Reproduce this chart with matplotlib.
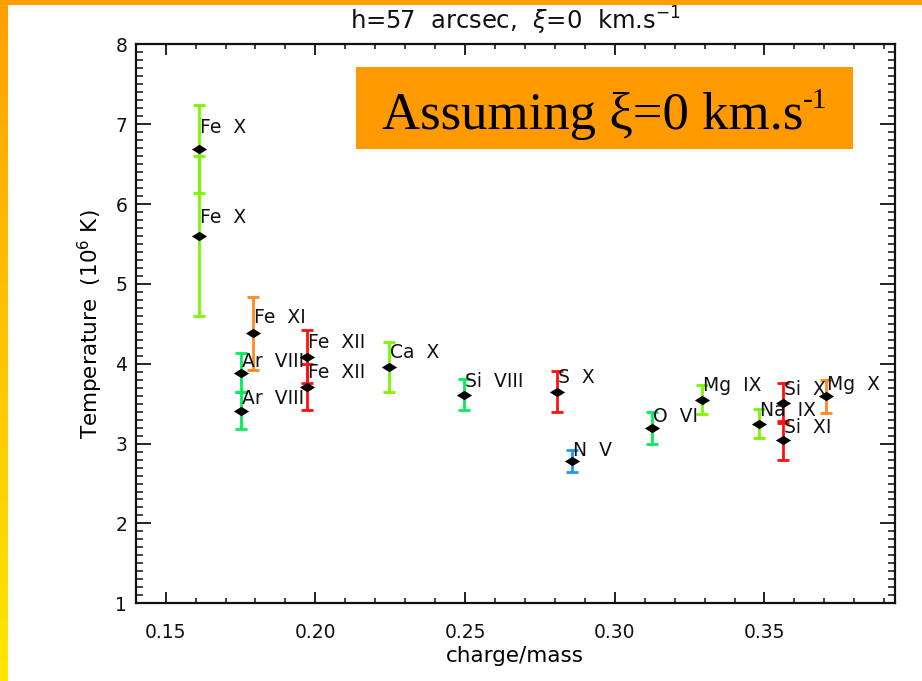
import numpy as np
import matplotlib
matplotlib.use("Agg")
import matplotlib.pyplot as plt
from matplotlib.patches import Rectangle
from matplotlib.colors import LinearSegmentedColormap

# Ion temperatures derived from line widths, h = 57 arcsec, xi = 0 km/s
ions = ["Fe X", "Fe X", "Fe XI", "Ar VIII", "Ar VIII", "Fe XII", "Fe XII",
        "Ca X", "Si VIII", "S X", "N V", "O VI", "Mg IX", "Na IX",
        "Si X", "Si XI", "Mg X"]
charge_mass = [0.1613, 0.1613, 0.1791, 0.1752, 0.1752, 0.1971, 0.1971,
               0.2247, 0.2495, 0.2808, 0.2858, 0.3126, 0.3291, 0.3482,
               0.3563, 0.3563, 0.3705]
temperature = [6.69, 5.60, 4.38, 3.89, 3.41, 4.09, 3.71,
               3.96, 3.61, 3.65, 2.78, 3.19, 3.55, 3.25,
               3.51, 3.04, 3.59]
temp_error = [0.55, 1.00, 0.46, 0.24, 0.23, 0.33, 0.29,
              0.31, 0.195, 0.26, 0.14, 0.20, 0.18, 0.18,
              0.25, 0.24, 0.21]

x_ticks = [0.15, 0.20, 0.25, 0.30, 0.35]
y_ticks = [1, 2, 3, 4, 5, 6, 7, 8]

LIME = "#7CF500"
SPRING = "#00EE5A"
ORANGE = "#FF8A1E"
RED = "#FF1010"
BLUE = "#1E96FF"
bar_colors = [LIME, LIME, ORANGE, SPRING, SPRING, RED, RED,
              LIME, SPRING, RED, BLUE, SPRING, LIME, LIME,
              RED, RED, ORANGE]
# label baseline height above each point, in pixels
label_dy = [16, 13, 10, 6, 7, 8.5, 8.5, 9, 8, 8.5, 5.5, 6.5, 9, 8, 7.5, 7.5, 6]

W, H = 922, 681
fig = plt.figure(figsize=(W / 100, H / 100), dpi=100)
fig.patch.set_facecolor("white")

plt.rcParams["font.family"] = ["DejaVu Sans"]
FS = 13.5
FS_LABEL = 15.5

# slide frame: orange-to-yellow strip on the left, orange strip on top
strip = fig.add_axes([0, 0, 7 / W, 1])
grad = np.linspace(0, 1, 256).reshape(-1, 1)
cmap = LinearSegmentedColormap.from_list("frame", ["#FFA000", "#FFC400", "#FFE600"])
strip.imshow(grad, aspect="auto", cmap=cmap, extent=[0, 1, 1, 0])
strip.set_axis_off()
fig.add_artist(Rectangle((0, 1 - 5 / H), 1, 5 / H, transform=fig.transFigure,
                         facecolor="#FFA000", edgecolor="none", zorder=5))

left, right = 135.7 / W, 895 / W
bottom, top = 1 - 603.3 / H, 1 - 44.3 / H
ax = fig.add_axes([left, bottom, right - left, top - bottom])
ax.set_xlim(0.1405, 0.3936)
ax.set_ylim(1, 8)

for xi, ti, ei, c in zip(charge_mass, temperature, temp_error, bar_colors):
    ax.errorbar([xi], [ti], yerr=[ei], fmt="none", ecolor=c, elinewidth=2.0,
                capsize=4.0, capthick=2.0, zorder=3)

diamond = [(-1, 0), (0, 0.62), (1, 0), (0, -0.62), (-1, 0)]
ax.scatter(charge_mass, temperature, marker=diamond, s=120, c="black",
           linewidths=0, zorder=4)

for name, xi, ti, dy in zip(ions, charge_mass, temperature, label_dy):
    ax.annotate(name.replace(" ", "  "), (xi, ti), xytext=(1, dy),
                textcoords="offset pixels", ha="left", va="baseline",
                fontsize=FS, color="#111111", zorder=5)

ax.set_xticks(x_ticks)
ax.set_xticklabels([f"{v:.2f}" for v in x_ticks])
ax.set_xticks(np.arange(0.14, 0.3936, 0.01), minor=True)
ax.set_yticks(y_ticks)
ax.set_yticklabels([str(v) for v in y_ticks])
ax.set_yticks(np.arange(1, 8.001, 0.1), minor=True)

ax.tick_params(axis="both", which="both", direction="in", top=True, right=True,
               colors="#111111", labelsize=FS)
ax.tick_params(axis="x", which="major", length=8, width=1.3, pad=14)
ax.tick_params(axis="x", which="minor", length=3.3, width=1.1)
ax.tick_params(axis="y", which="major", length=10.5, width=1.3, pad=6)
ax.tick_params(axis="y", which="minor", length=5, width=1.1)
for s in ax.spines.values():
    s.set_linewidth(1.6)
    s.set_color("#111111")

ax.set_xlabel("charge/mass", fontsize=FS_LABEL)
ax.xaxis.set_label_coords(0.5, -0.076)
ax.set_ylabel("Temperature  (10$^6$ K)", fontsize=FS_LABEL)
ax.yaxis.set_label_coords(-0.041, 0.5)

fig.text((left + right) / 2, 1 - 29.5 / H,
         r"h=57  arcsec,  $\xi$=0  km.s$^{-1}$",
         ha="center", va="baseline", fontsize=17.5, color="#111111")

# highlighted note box
bx0, bx1, by0, by1 = 356, 853, 67.3, 149
fig.add_artist(Rectangle((bx0 / W, 1 - by1 / H), (bx1 - bx0) / W, (by1 - by0) / H,
                         transform=fig.transFigure, facecolor="#FF9A00",
                         edgecolor="none", zorder=6))
note = fig.text(0, 1 - 129.3 / H, "Assuming ξ=0 km.s",
                ha="left", va="baseline", fontsize=38, color="black",
                family="Liberation Serif", zorder=7)
sup = fig.text(0, 1 - 108 / H, "-1",
               ha="left", va="baseline", fontsize=21, color="black",
               family="Liberation Serif", zorder=7)
fig.canvas.draw()
r = fig.canvas.get_renderer()
w_main = note.get_window_extent(r).width
w_sup = sup.get_window_extent(r).width
x0 = (bx0 + bx1) / 2 - (w_main + w_sup) / 2
note.set_x(x0 / W)
sup.set_x((x0 + w_main) / W)

fig.savefig("out.png", dpi=100, facecolor="white")
